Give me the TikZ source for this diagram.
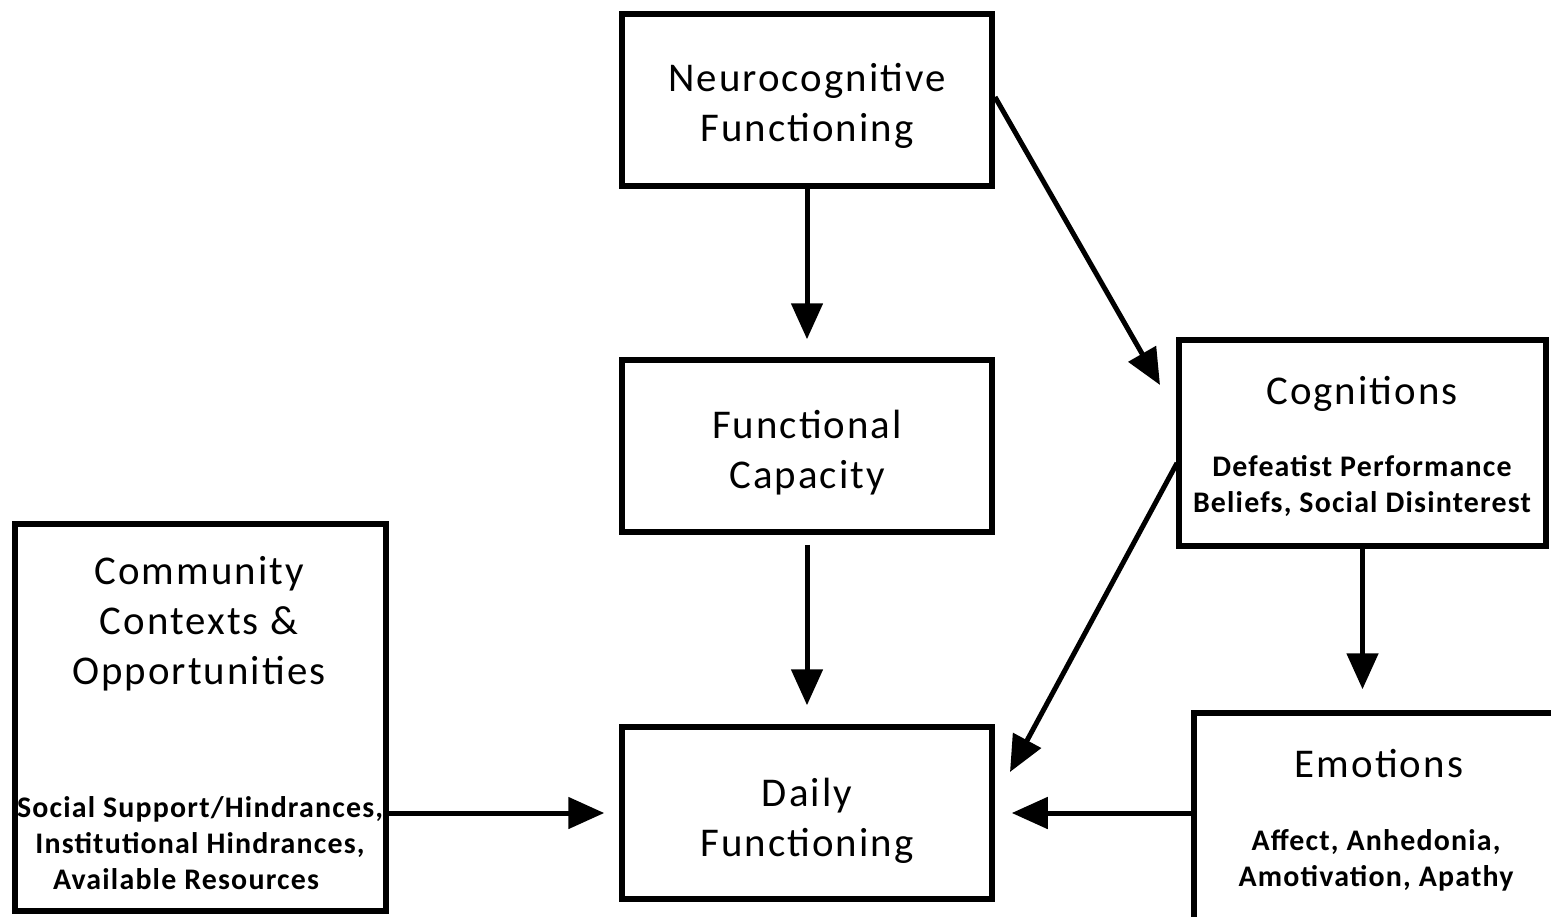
\documentclass[tikz,border=0pt]{standalone}
\usepackage{fontspec}
\setmainfont{Carlito}
\newfontfamily\titlefont[LetterSpace=5]{Carlito}
\newfontfamily\subfont[LetterSpace=4]{Carlito}
\usetikzlibrary{arrows.meta}
\begin{document}
\begin{tikzpicture}[x=1bp,y=-1bp,
  box/.style={draw=black,line width=5.5bp,fill=white,inner sep=0pt},
  title/.style={inner sep=0pt,align=center,font=\titlefont\fontsize{41}{50}\selectfont},
  sub/.style={inner sep=0pt,align=center,font=\subfont\fontsize{30}{36}\selectfont\bfseries},
  conn/.style={line width=5bp,-{Triangle[length=36bp,width=31bp]}}
]
\clip (0,0) rectangle (1551,916);
\fill[white] (0,0) rectangle (1551,916);

\node[box,minimum width=370bp,minimum height=172bp] (neuro) at (807,100) {};
\node[box,minimum width=370bp,minimum height=172bp] (fc) at (807,446) {};
\node[box,minimum width=370bp,minimum height=172bp] (daily) at (807,813) {};
\node[box,minimum width=371bp,minimum height=387bp] (comm) at (200.5,717.5) {};
\node[box,minimum width=367bp,minimum height=206bp] (cog) at (1362.5,443) {};
\node[box,minimum width=506bp,minimum height=287bp] (emo) at (1447,856.5) {};

\node[title] (neurot) at (807,106) {Neurocognitive\\Functioning};
\node[title] (fct) at (807,453) {Functional\\Capacity};
\node[title] (dailyt) at (807,821) {Daily\\Functioning};
\node[title] (commt) at (199,624) {Community\\Contexts \&\\Opportunities};
\node[sub] (comms) at (200,843) {Social Support/Hindrances,\\Institutional Hindrances,\\Available Resources\hspace*{28bp}};
\node[title] (cogt) at (1362,394) {Cognitions};
\node[sub] (cogs) at (1362,486) {Defeatist Performance\\Beliefs, Social Disinterest};
\node[title] (emot) at (1379,764) {Emotions};
\node[sub] (emos) at (1376,860) {Affect, Anhedonia,\\Amotivation, Apathy};

\coordinate (neuroout) at (995,97);
\coordinate (cogin) at (1160,385);
\coordinate (cogout) at (1177,463);
\coordinate (dailyin) at (1010,772);

\draw[conn,shorten >=18bp] (neuro.south) -- (fc.north);
\draw[conn,shorten <=10bp,shorten >=19bp] (fc.south) -- (daily.north);
\draw[conn] (neuroout) -- (cogin);
\draw[conn] (cogout) -- (dailyin);
\draw[conn,shorten >=21bp] (cog.south) -- (cog.south |- emo.north);
\draw[conn,shorten >=17bp] (emo.west |- daily.east) -- (daily.east);
\draw[conn,shorten >=15bp] (comm.east |- daily.west) -- (daily.west);
\end{tikzpicture}
\end{document}
